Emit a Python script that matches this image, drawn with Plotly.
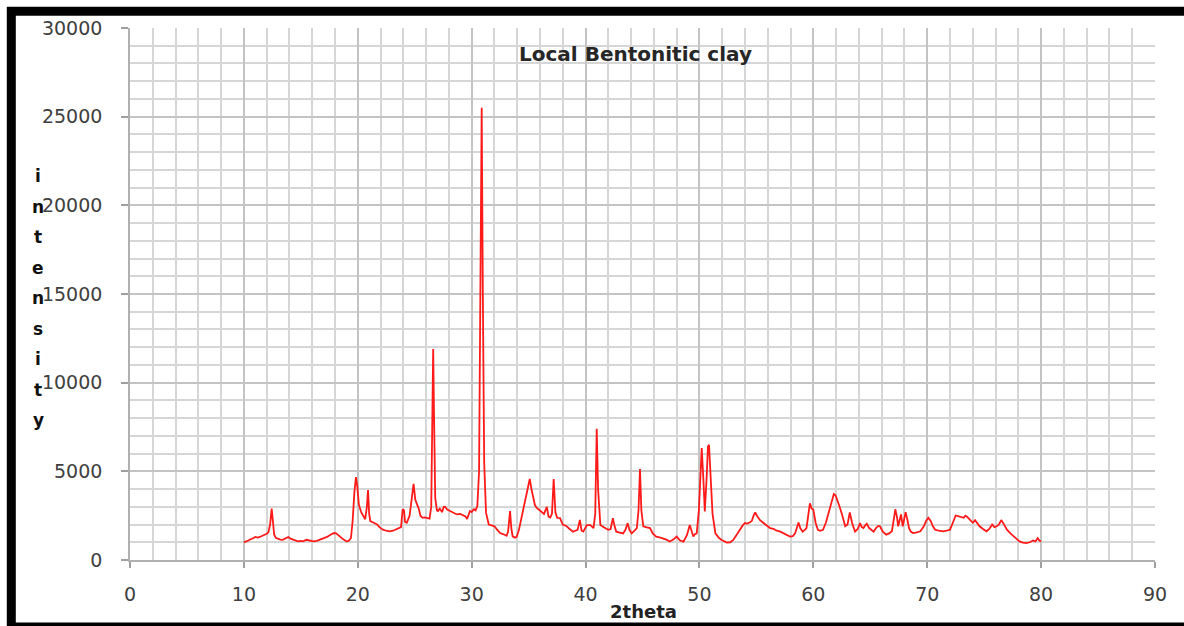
import plotly.graph_objects as go

# ---- data (2theta in degrees, intensity counts) ----
two_theta = [
    10.0, 10.2, 10.4, 10.5, 10.7, 10.9, 11.0, 11.2, 11.4, 11.6, 11.85, 12.0, 12.15, 12.3, 12.44, 12.55, 12.66, 12.8,
    13.0, 13.2, 13.4, 13.6, 13.9, 14.1, 14.3, 14.5, 14.75, 15.0, 15.2, 15.5, 15.8, 16.1, 16.4, 16.7, 17.0, 17.3,
    17.6, 17.9, 18.1, 18.4, 18.7, 19.0, 19.2, 19.4, 19.55, 19.7, 19.84, 19.95, 20.1, 20.3, 20.5, 20.65, 20.8, 20.9,
    21.0, 21.1, 21.4, 21.7, 21.9, 22.2, 22.5, 22.8, 23.1, 23.4, 23.6, 23.8, 23.94, 24.06, 24.15, 24.3, 24.55, 24.75,
    24.9, 25.05, 25.2, 25.35, 25.5, 25.7, 25.9, 26.1, 26.3, 26.45, 26.55, 26.62, 26.7, 26.8, 26.95, 27.05, 27.2,
    27.4, 27.55, 27.66, 27.85, 28.1, 28.4, 28.7, 29.0, 29.25, 29.45, 29.6, 29.75, 29.85, 30.0, 30.2, 30.35, 30.5,
    30.65, 30.78, 30.88, 30.98, 31.1, 31.26, 31.5, 31.75, 32.0, 32.25, 32.5, 32.8, 33.07, 33.2, 33.37, 33.48, 33.6,
    33.8, 33.95, 34.15, 34.4, 34.6, 34.8, 34.95, 35.1, 35.25, 35.4, 35.55, 35.7, 35.9, 36.15, 36.35, 36.6, 36.75,
    36.9, 37.05, 37.2, 37.35, 37.5, 37.76, 38.0, 38.3, 38.6, 38.9, 39.1, 39.3, 39.5, 39.65, 39.8, 40.1, 40.4, 40.7,
    40.85, 40.98, 41.1, 41.3, 41.6, 42.0, 42.2, 42.4, 42.55, 42.7, 43.0, 43.3, 43.5, 43.7, 43.85, 44.05, 44.3, 44.5,
    44.65, 44.78, 44.9, 45.07, 45.3, 45.66, 45.9, 46.2, 46.5, 46.8, 47.1, 47.4, 47.7, 48.0, 48.3, 48.6, 48.9, 49.15,
    49.3, 49.46, 49.6, 49.76, 49.95, 50.1, 50.2, 50.35, 50.47, 50.62, 50.75, 50.84, 50.98, 51.15, 51.4, 51.7, 51.95,
    52.2, 52.4, 52.7, 52.97, 53.3, 53.6, 53.8, 54.0, 54.2, 54.4, 54.6, 54.75, 54.9, 55.05, 55.3, 55.6, 55.9, 56.2,
    56.5, 56.8, 57.1, 57.4, 57.7, 57.95, 58.2, 58.4, 58.55, 58.7, 58.85, 59.06, 59.25, 59.4, 59.55, 59.7, 59.85,
    60.0, 60.2, 60.4, 60.6, 60.85, 61.1, 61.3, 61.55, 61.8, 61.95, 62.1, 62.3, 62.55, 62.8, 63.0, 63.2, 63.4, 63.66,
    63.9, 64.1, 64.25, 64.4, 64.55, 64.7, 64.9, 65.1, 65.3, 65.5, 65.7, 65.85, 66.1, 66.4, 66.65, 66.9, 67.05, 67.2,
    67.35, 67.45, 67.6, 67.7, 67.85, 67.95, 68.1, 68.25, 68.4, 68.55, 68.75, 69.0, 69.2, 69.4, 69.7, 69.9, 70.1,
    70.3, 70.5, 70.7, 71.0, 71.4, 71.7, 72.0, 72.25, 72.5, 72.7, 73.0, 73.2, 73.35, 73.5, 73.7, 74.0, 74.2, 74.4,
    74.6, 74.9, 75.2, 75.45, 75.7, 75.9, 76.1, 76.3, 76.5, 76.7, 77.0, 77.3, 77.6, 77.85, 78.1, 78.4, 78.7, 79.0,
    79.3, 79.5, 79.7, 79.85, 80.0,
]
intensity = [
    990, 1030, 1100, 1140, 1180, 1250, 1300, 1260, 1300, 1350, 1430, 1480, 1560, 2000, 2900, 2100, 1430, 1250,
    1180, 1150, 1140, 1200, 1300, 1200, 1140, 1100, 1050, 1080, 1050, 1140, 1080, 1050, 1080, 1140, 1200, 1300,
    1420, 1520, 1500, 1330, 1180, 1050, 1080, 1240, 2200, 3800, 4670, 4200, 3100, 2700, 2500, 2300, 3000, 3950,
    2600, 2190, 2100, 2000, 1850, 1710, 1650, 1620, 1650, 1720, 1760, 1850, 2860, 2800, 2150, 2100, 2500, 3500,
    4290, 3400, 3140, 2900, 2500, 2380, 2400, 2350, 2330, 3000, 9000, 11900, 8000, 3500, 2800, 2760, 2900,
    2700, 3000, 3010, 2850, 2760, 2700, 2570, 2600, 2510, 2450, 2320, 2550, 2760, 2700, 2860, 2800, 3050,
    5000, 16000, 25500, 15000, 5500, 2670, 2000, 1950, 1900, 1700, 1520, 1450, 1370, 1600, 2760, 1800, 1330,
    1260, 1300, 1700, 2480, 3100, 3710, 4200, 4570, 4000, 3620, 3100, 2950, 2850, 2700, 2600, 3000, 2450,
    2400, 2600, 4570, 2700, 2380, 2360, 2000, 1920, 1750, 1600, 1650, 1700, 2260, 1650, 1600, 1950, 1980, 1800,
    2600, 7400, 4000, 1980, 1850, 1700, 1750, 2360, 1900, 1600, 1550, 1500, 1700, 2080, 1700, 1500, 1650, 1800,
    2800, 5130, 2800, 1900, 1850, 1800, 1500, 1320, 1280, 1230, 1150, 1040, 1150, 1320, 1100, 1040, 1400, 1980,
    1600, 1320, 1450, 1500, 2800, 5500, 6320, 4500, 2740, 4500, 6400, 6500, 4500, 2600, 1500, 1250, 1130,
    1050, 980, 1000, 1130, 1450, 1800, 1950, 2080, 2050, 2110, 2200, 2500, 2680, 2500, 2260, 2100, 1950, 1800,
    1750, 1650, 1600, 1500, 1400, 1320, 1350, 1500, 1800, 2110, 1800, 1600, 1700, 1800, 2500, 3200, 2900,
    2830, 2100, 1700, 1650, 1700, 2100, 2550, 3200, 3720, 3650, 3400, 3020, 2500, 1900, 2000, 2680, 2100, 1600,
    1750, 2080, 1850, 1800, 1950, 2040, 1800, 1700, 1600, 1800, 1920, 1900, 1600, 1430, 1500, 1620, 2200, 2860,
    2400, 1900, 2300, 2570, 1900, 2200, 2700, 2300, 1810, 1600, 1520, 1550, 1600, 1620, 1900, 2200, 2380,
    2200, 1900, 1710, 1650, 1620, 1650, 1710, 2100, 2510, 2480, 2440, 2380, 2500, 2440, 2300, 2100, 2250, 2050,
    1900, 1750, 1620, 1750, 2000, 1850, 1900, 2000, 2250, 2050, 1710, 1500, 1330, 1200, 1050, 980, 950, 1000,
    1100, 1050, 1240, 1100, 1050,
]

chart_title = "Local Bentonitic clay"
x_title = "2theta"
y_title = "intensity"
x_ticks = [0, 10, 20, 30, 40, 50, 60, 70, 80, 90]
y_ticks = [0, 5000, 10000, 15000, 20000, 25000, 30000]

W, H = 1184, 626
L, R, T, B = 130, 29, 28, 66
PW, PH = W - L - R, H - T - B


def px_x(px):
    return (px - L) / PW


def px_y(py):
    return (H - B - py) / PH


fig = go.Figure()
fig.add_trace(go.Scatter(
    x=two_theta, y=intensity, mode="lines",
    line=dict(color="#ff1a1a", width=1.8),
    showlegend=False, hoverinfo="x+y",
))

tick_font = dict(family="DejaVu Sans", size=19, color="#404040")
fig.update_xaxes(
    range=[0, 90], tickvals=x_ticks, ticktext=[str(v) for v in x_ticks],
    showgrid=True, gridcolor="#c4c4c4", gridwidth=1.8,
    minor=dict(dtick=2, tick0=0, showgrid=True, gridcolor="#d6d6d6", gridwidth=1.8),
    showline=True, linecolor="#b0b0b0", linewidth=1.6,
    ticks="outside", ticklen=6, tickcolor="#a0a0a0", tickwidth=1.6,
    tickfont=tick_font, ticklabelstandoff=10, zeroline=False, fixedrange=True,
)
fig.update_yaxes(
    range=[0, 30000], tickvals=y_ticks, ticktext=[str(v) for v in y_ticks],
    showgrid=True, gridcolor="#c4c4c4", gridwidth=1.8,
    minor=dict(dtick=1000, tick0=0, showgrid=True, gridcolor="#d6d6d6", gridwidth=1.8),
    showline=True, linecolor="#b0b0b0", linewidth=1.6,
    ticks="outside", ticklen=7, tickcolor="#a0a0a0", tickwidth=1.6,
    tickfont=tick_font, ticklabelstandoff=15, zeroline=False, fixedrange=True,
)

annotations = [
    dict(text="<b>" + chart_title + "</b>", x=px_x(635), y=px_y(54), xref="paper", yref="paper",
         showarrow=False, font=dict(family="DejaVu Sans", size=20, color="#262626"),
         xanchor="center", yanchor="middle"),
    dict(text="<b>" + x_title + "</b>", x=px_x(643), y=px_y(611), xref="paper", yref="paper",
         showarrow=False, font=dict(family="DejaVu Sans", size=18, color="#222222"),
         xanchor="center", yanchor="middle"),
]
for i, ch in enumerate(y_title):
    annotations.append(dict(
        text="<b>" + ch + "</b>", x=px_x(38), y=px_y(176 + i * 30.5), xref="paper", yref="paper",
        showarrow=False, font=dict(family="DejaVu Sans", size=17, color="#111111"),
        xanchor="center", yanchor="middle"))

frame = dict(color="#000000", width=9)
shapes = [
    dict(type="line", xref="paper", yref="paper", x0=px_x(7), x1=px_x(W + 10),
         y0=px_y(11.3), y1=px_y(11.3), line=frame),
    dict(type="line", xref="paper", yref="paper", x0=px_x(11.3), x1=px_x(11.3),
         y0=px_y(7), y1=px_y(H + 10), line=frame),
    dict(type="line", xref="paper", yref="paper", x0=px_x(7), x1=px_x(W + 10),
         y0=px_y(H + 1), y1=px_y(H + 1), line=frame),
]

fig.update_layout(
    width=W, height=H,
    margin=dict(l=L, r=R, t=T, b=B, pad=0),
    paper_bgcolor="white", plot_bgcolor="white",
    annotations=annotations, shapes=shapes,
    font=dict(family="DejaVu Sans"),
)

fig.write_html("out.html", include_plotlyjs=True, full_html=True,
               config=dict(displayModeBar=False))
